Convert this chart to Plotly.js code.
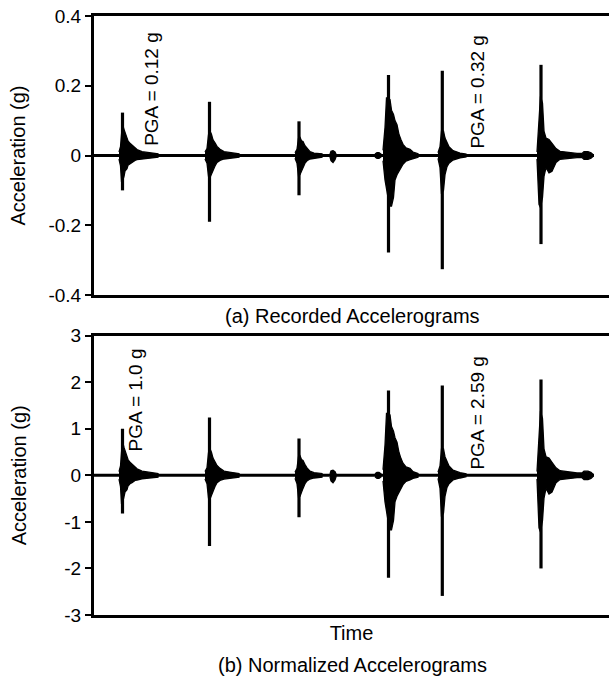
<!DOCTYPE html>
<html>
<head>
<meta charset="utf-8">
<script src="https://cdn.plot.ly/plotly-3.0.1.min.js"></script>
<style>html,body{margin:0;padding:0;background:#fff;}#chart{width:609px;height:677px;}</style>
</head>
<body>
<div id="chart"></div>
<script>
// ---- Data (time in arbitrary units, acceleration in g) ----
const recordStart = 0;
const recordEnd = 500;

// Main event onsets (time of peak spike)
const eventTimes = [28.5, 115.5, 205, 294.5, 348.3, 447];

// (a) Recorded accelerograms: peak positive / negative accelerations
const recPeakPos = [0.123, 0.154, 0.098, 0.231, 0.243, 0.260];
const recPeakNeg = [-0.100, -0.190, -0.114, -0.278, -0.326, -0.254];

// (b) Normalized accelerograms: peak positive / negative accelerations
const normPeakPos = [1.00, 1.24, 0.79, 1.82, 1.93, 2.06];
const normPeakNeg = [-0.82, -1.52, -0.90, -2.20, -2.59, -2.00];

// Envelopes of the strong-motion portion of each record
const e1Time = [25, 26.5, 27.5, 28.5, 30, 31, 33, 34, 36, 38, 41, 43, 48, 56, 64];
const e1RecUp = [0.01, 0.025, 0.06, 0.09, 0.075, 0.065, 0.05, 0.042, 0.035, 0.03, 0.02, 0.017, 0.011, 0.008, 0.005];
const e1RecLo = [-0.01, -0.03, -0.074, -0.074, -0.06, -0.045, -0.038, -0.028, -0.022, -0.02, -0.014, -0.012, -0.009, -0.007, -0.005];
const e1NormUp = [0.08, 0.2, 0.49, 0.73, 0.6, 0.53, 0.4, 0.34, 0.28, 0.24, 0.16, 0.14, 0.09, 0.065, 0.04];
const e1NormLo = [-0.08, -0.24, -0.6, -0.6, -0.49, -0.36, -0.31, -0.23, -0.18, -0.16, -0.11, -0.1, -0.073, -0.057, -0.04];

const e2Time = [111, 113, 114.5, 116, 117.5, 119, 121, 123, 126, 130, 137, 145];
const e2RecUp = [0.01, 0.02, 0.06, 0.07, 0.06, 0.045, 0.036, 0.026, 0.018, 0.011, 0.008, 0.005];
const e2RecLo = [-0.01, -0.022, -0.06, -0.063, -0.055, -0.042, -0.03, -0.02, -0.014, -0.01, -0.007, -0.005];
const e2NormUp = [0.08, 0.16, 0.49, 0.57, 0.49, 0.37, 0.29, 0.21, 0.15, 0.09, 0.065, 0.04];
const e2NormLo = [-0.08, -0.18, -0.49, -0.51, -0.45, -0.34, -0.24, -0.16, -0.11, -0.08, -0.057, -0.04];

const e3Time = [201, 203, 204.5, 206, 207.5, 209, 211, 213, 216, 220, 228];
const e3RecUp = [0.008, 0.018, 0.05, 0.052, 0.042, 0.04, 0.028, 0.02, 0.011, 0.007, 0.005];
const e3RecLo = [-0.008, -0.022, -0.058, -0.055, -0.045, -0.035, -0.022, -0.015, -0.01, -0.007, -0.005];
const e3NormUp = [0.065, 0.15, 0.4, 0.42, 0.34, 0.32, 0.23, 0.16, 0.09, 0.057, 0.04];
const e3NormLo = [-0.065, -0.18, -0.47, -0.45, -0.36, -0.28, -0.18, -0.12, -0.08, -0.057, -0.04];

const e4Time = [289, 291, 292.5, 294, 296, 297.5, 299.5, 301, 303, 305, 307, 309, 312, 316, 319, 324];
const e4RecUp = [0.015, 0.08, 0.165, 0.165, 0.16, 0.13, 0.118, 0.1, 0.088, 0.06, 0.045, 0.032, 0.022, 0.018, 0.01, 0.005];
const e4RecLo = [-0.015, -0.07, -0.1, -0.12, -0.145, -0.145, -0.12, -0.07, -0.055, -0.045, -0.035, -0.025, -0.016, -0.012, -0.008, -0.005];
const e4NormUp = [0.12, 0.65, 1.33, 1.33, 1.3, 1.05, 0.95, 0.81, 0.71, 0.49, 0.36, 0.26, 0.18, 0.15, 0.08, 0.04];
const e4NormLo = [-0.12, -0.57, -0.81, -0.97, -1.17, -1.17, -0.97, -0.57, -0.45, -0.36, -0.28, -0.2, -0.13, -0.1, -0.065, -0.04];

const e5Time = [344, 346, 347.5, 349.5, 351, 353, 355, 359, 366, 372];
const e5RecUp = [0.008, 0.025, 0.07, 0.07, 0.05, 0.035, 0.025, 0.014, 0.007, 0.004];
const e5RecLo = [-0.008, -0.035, -0.11, -0.1, -0.055, -0.032, -0.022, -0.013, -0.007, -0.004];
const e5NormUp = [0.065, 0.2, 0.57, 0.57, 0.4, 0.28, 0.2, 0.11, 0.057, 0.032];
const e5NormLo = [-0.065, -0.28, -0.89, -0.81, -0.45, -0.26, -0.18, -0.1, -0.057, -0.032];

const e6Time = [443, 445, 446.5, 448.5, 450, 452, 455, 458, 462, 466, 473, 483, 488, 490, 494, 497, 499];
const e6RecUp = [0.01, 0.12, 0.17, 0.15, 0.07, 0.05, 0.046, 0.035, 0.02, 0.012, 0.009, 0.006, 0.006, 0.011, 0.011, 0.008, 0.003];
const e6RecLo = [-0.01, -0.14, -0.15, -0.12, -0.06, -0.035, -0.05, -0.045, -0.02, -0.011, -0.009, -0.006, -0.006, -0.011, -0.011, -0.008, -0.003];
const e6NormUp = [0.08, 0.97, 1.38, 1.22, 0.57, 0.4, 0.37, 0.28, 0.16, 0.1, 0.073, 0.05, 0.05, 0.09, 0.09, 0.065, 0.025];
const e6NormLo = [-0.08, -1.13, -1.22, -0.97, -0.49, -0.28, -0.4, -0.36, -0.16, -0.09, -0.073, -0.05, -0.05, -0.09, -0.09, -0.065, -0.025];

// Small intermediate arrivals
const b1Time = [236, 237, 239, 241, 242];
const b1RecUp = [0.004, 0.012, 0.014, 0.01, 0.004];
const b1RecLo = [-0.004, -0.015, -0.02, -0.012, -0.004];
const b1NormUp = [0.032, 0.1, 0.11, 0.08, 0.032];
const b1NormLo = [-0.032, -0.12, -0.16, -0.1, -0.032];

const b2Time = [281, 283, 285, 287];
const b2RecUp = [0.004, 0.008, 0.008, 0.004];
const b2RecLo = [-0.004, -0.008, -0.008, -0.004];
const b2NormUp = [0.032, 0.065, 0.065, 0.032];
const b2NormLo = [-0.032, -0.065, -0.065, -0.032];

const pgaLabels = ['PGA = 0.12 g', 'PGA = 0.32 g', 'PGA = 1.0 g', 'PGA = 2.59 g'];
const recTickVals = [0.4, 0.2, 0, -0.2, -0.4];
const recTickText = ['0.4', '0.2', '0', '-0.2', '-0.4'];
const normTickVals = [3, 2, 1, 0, -1, -2, -3];
const normTickText = ['3', '2', '1', '0', '-1', '-2', '-3'];

// ---- Build traces ----
const FONT = 'Liberation Sans, Arial, Helvetica, sans-serif';
const traces = [];

function envTrace(t, up, lo, xa, ya) {
  return {
    x: t.concat(t.slice().reverse()),
    y: up.concat(lo.slice().reverse()),
    xaxis: xa, yaxis: ya,
    mode: 'lines', fill: 'toself', fillcolor: '#000',
    line: {color: '#000', width: 1.3, shape: 'linear'},
    hoverinfo: 'skip', showlegend: false
  };
}
function spikeTrace(times, pos, neg, xa, ya) {
  const x = [], y = [];
  times.forEach((t, i) => { x.push(t, t, null); y.push(neg[i], pos[i], null); });
  return {x, y, xaxis: xa, yaxis: ya, mode: 'lines',
    line: {color: '#000', width: 3.2}, hoverinfo: 'skip', showlegend: false};
}
function baseTrace(xa, ya) {
  return {x: [recordStart, recordEnd], y: [0, 0], xaxis: xa, yaxis: ya, mode: 'lines',
    line: {color: '#000', width: 3}, hoverinfo: 'skip', showlegend: false};
}

const recEnv = [[e1Time, e1RecUp, e1RecLo], [e2Time, e2RecUp, e2RecLo], [e3Time, e3RecUp, e3RecLo],
  [e4Time, e4RecUp, e4RecLo], [e5Time, e5RecUp, e5RecLo], [e6Time, e6RecUp, e6RecLo],
  [b1Time, b1RecUp, b1RecLo], [b2Time, b2RecUp, b2RecLo]];
const normEnv = [[e1Time, e1NormUp, e1NormLo], [e2Time, e2NormUp, e2NormLo], [e3Time, e3NormUp, e3NormLo],
  [e4Time, e4NormUp, e4NormLo], [e5Time, e5NormUp, e5NormLo], [e6Time, e6NormUp, e6NormLo],
  [b1Time, b1NormUp, b1NormLo], [b2Time, b2NormUp, b2NormLo]];

traces.push(baseTrace('x', 'y'));
recEnv.forEach(e => traces.push(envTrace(e[0], e[1], e[2], 'x', 'y')));
traces.push(spikeTrace(eventTimes, recPeakPos, recPeakNeg, 'x', 'y'));

traces.push(baseTrace('x2', 'y2'));
normEnv.forEach(e => traces.push(envTrace(e[0], e[1], e[2], 'x2', 'y2')));
traces.push(spikeTrace(eventTimes, normPeakPos, normPeakNeg, 'x2', 'y2'));

const xCommon = {
  range: [0, 515], showline: true, linecolor: '#000', linewidth: 3, mirror: true,
  showticklabels: false, ticks: '', showgrid: false, zeroline: false
};
const yCommon = {
  showline: true, linecolor: '#000', linewidth: 3, mirror: false,
  ticks: 'outside', ticklen: 6, tickwidth: 2, tickcolor: '#000',
  showgrid: false, zeroline: false,
  tickfont: {family: FONT, size: 19, color: '#000'}
};

const layout = {
  width: 609, height: 677,
  margin: {l: 94, r: 0, t: 16, b: 62},
  paper_bgcolor: '#fff', plot_bgcolor: '#fff',
  font: {family: FONT, size: 19, color: '#000'},
  showlegend: false,
  xaxis: Object.assign({}, xCommon, {domain: [0, 1], anchor: 'y'}),
  yaxis: Object.assign({}, yCommon, {domain: [0.5342, 1], anchor: 'x', range: [-0.4, 0.4],
    tickmode: 'array', tickvals: recTickVals, ticktext: recTickText,
    title: {text: 'Acceleration (g)', font: {family: FONT, size: 20, color: '#000'}, standoff: 18}}),
  xaxis2: Object.assign({}, xCommon, {domain: [0, 1], anchor: 'y2',
    title: {text: 'Time', font: {family: FONT, size: 20, color: '#000'}, standoff: 9}}),
  yaxis2: Object.assign({}, yCommon, {domain: [0, 0.4663], anchor: 'x2', range: [-3, 3],
    tickmode: 'array', tickvals: normTickVals, ticktext: normTickText,
    title: {text: 'Acceleration (g)', font: {family: FONT, size: 20, color: '#000'}, standoff: 33}}),
  annotations: [
    {xref: 'x', yref: 'y', x: 58, y: 0.022, text: pgaLabels[0], textangle: -90,
     xanchor: 'center', yanchor: 'bottom', showarrow: false, font: {family: FONT, size: 19}},
    {xref: 'x', yref: 'y', x: 384, y: 0.014, text: pgaLabels[1], textangle: -90,
     xanchor: 'center', yanchor: 'bottom', showarrow: false, font: {family: FONT, size: 19}},
    {xref: 'x2', yref: 'y2', x: 41.5, y: 0.47, text: pgaLabels[2], textangle: -90,
     xanchor: 'center', yanchor: 'bottom', showarrow: false, font: {family: FONT, size: 19}},
    {xref: 'x2', yref: 'y2', x: 384, y: 0.08, text: pgaLabels[3], textangle: -90,
     xanchor: 'center', yanchor: 'bottom', showarrow: false, font: {family: FONT, size: 19}},
    {xref: 'paper', yref: 'paper', x: 0.501, y: 0.499, text: '(a) Recorded Accelerograms',
     xanchor: 'center', yanchor: 'middle', showarrow: false, font: {family: FONT, size: 20}},
    {xref: 'paper', yref: 'paper', x: 0.501, y: -0.0835, text: '(b) Normalized Accelerograms',
     xanchor: 'center', yanchor: 'middle', showarrow: false, font: {family: FONT, size: 20}}
  ]
};

Plotly.newPlot('chart', traces, layout, {displayModeBar: false, staticPlot: true});
</script>
</body>
</html>
